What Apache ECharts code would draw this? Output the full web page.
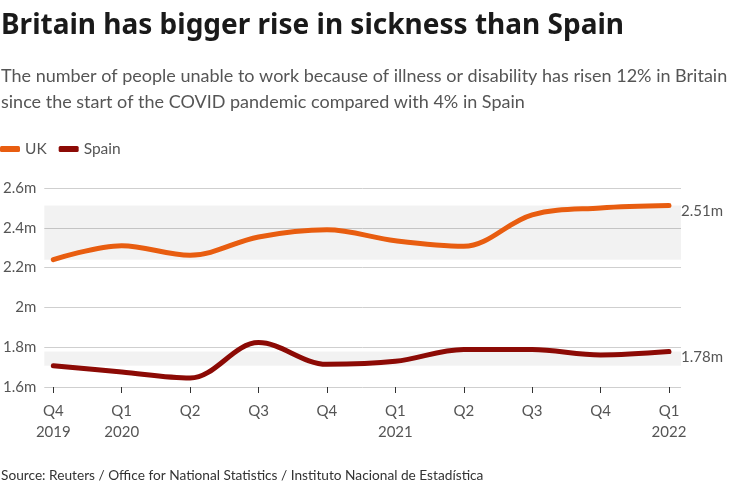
<!DOCTYPE html>
<html>
<head>
<meta charset="utf-8">
<script src="https://cdn.jsdelivr.net/npm/echarts@6/dist/echarts.min.js"></script>
<style>html,body{margin:0;padding:0;background:#fff}#c{width:736px;height:490px}</style>
</head>
<body>
<div id="c"></div>
<script>
var categories = ['Q4\n2019','Q1\n2020','Q2','Q3','Q4','Q1\n2021','Q2','Q3','Q4','Q1\n2022'];
var ukValues = [2.24, 2.31, 2.262, 2.354, 2.39, 2.335, 2.307, 2.465, 2.50, 2.512];
var spainValues = [1.707, 1.675, 1.645, 1.823, 1.714, 1.729, 1.789, 1.788, 1.761, 1.778];
var yTicks = [1.6, 1.8, 2.0, 2.2, 2.4, 2.6];
var seriesNames = ['UK', 'Spain'];

var FONT = 'Lato';
var chart = echarts.init(document.getElementById('c'), null, {renderer: 'canvas'});
var yMin = yTicks[0], yMax = yTicks[yTicks.length - 1];
var gTop = 188, gBottom = 103;
function fmt(v){ return Number(v.toFixed(1)) + 'm'; }
var option = {
  animation: false,
  textStyle: {fontFamily: FONT},
  graphic: [
    {type:'text', left: 1, top: 12, style:{text:'Britain has bigger rise in sickness than Spain', font:'bold 28px "Noto Sans"', fill:'#1a1a1a'}},
    {type:'text', left: 1, top: 63, style:{text:'The number of people unable to work because of illness or disability has risen 12% in Britain\nsince the start of the COVID pandemic compared with 4% in Spain', font:'18px ' + FONT, fill:'#555', lineHeight: 26}},
    {type:'text', left: 1, top: 469, style:{text:'Source: Reuters / Office for National Statistics / Instituto Nacional de Estadística', font:'13.7px ' + FONT, fill:'#333'}}
  ],
  legend: {
    left: 0, top: 141, padding: 0, itemWidth: 20, itemHeight: 6, itemGap: 12, icon: 'roundRect',
    textStyle: {fontSize: 15.5, color: '#555', fontFamily: FONT},
    data: seriesNames
  },
  grid: [
    {left: 42, right: 55, top: gTop, bottom: gBottom},
    {left: 53.3, right: 67, top: gTop, bottom: gBottom}
  ],
  xAxis: [
    {gridIndex: 0, type: 'value', min: 0, max: 1, show: false},
    {gridIndex: 1, type: 'category', data: categories, boundaryGap: false,
     axisLine: {show: false},
     axisTick: {show: true, length: 6, lineStyle: {color: '#333'}},
     axisLabel: {color: '#555', fontSize: 15, lineHeight: 21, margin: 14, fontFamily: FONT}}
  ],
  yAxis: [
    {gridIndex: 0, type: 'value', min: yMin, max: yMax, interval: 0.2,
     axisLine: {show: false}, axisTick: {show: false},
     splitLine: {lineStyle: {color: '#cfcfcf', width: 1}},
     axisLabel: {formatter: fmt, color: '#555', fontSize: 15, margin: 8, fontFamily: FONT}},
    {gridIndex: 1, type: 'value', min: yMin, max: yMax, show: false}
  ],
  series: [
    {type: 'line', xAxisIndex: 0, yAxisIndex: 0, data: [], silent: true,
     markArea: {silent: true, itemStyle: {color: 'rgba(0,0,0,0.05)'},
       data: [
         [{yAxis: ukValues[0]}, {yAxis: ukValues[ukValues.length - 1]}],
         [{yAxis: spainValues[0]}, {yAxis: spainValues[spainValues.length - 1]}]
       ]}},
    {name: seriesNames[0], type: 'line', xAxisIndex: 1, yAxisIndex: 1, data: ukValues,
     smooth: 0.35, showSymbol: false, color: '#e85d10',
     lineStyle: {width: 5, cap: 'round', join: 'round'},
     endLabel: {show: true, distance: 12, offset: [0, 6], color: '#555', fontSize: 15, fontFamily: FONT,
       formatter: function(p){ return p.value.toFixed(2) + 'm'; }}},
    {name: seriesNames[1], type: 'line', xAxisIndex: 1, yAxisIndex: 1, data: spainValues,
     smooth: 0.35, showSymbol: false, color: '#8c0a05',
     lineStyle: {width: 5, cap: 'round', join: 'round'},
     endLabel: {show: true, distance: 12, offset: [0, 6], color: '#555', fontSize: 15, fontFamily: FONT,
       formatter: function(p){ return p.value.toFixed(2) + 'm'; }}}
  ]
};
chart.setOption(option);
</script>
</body>
</html>
